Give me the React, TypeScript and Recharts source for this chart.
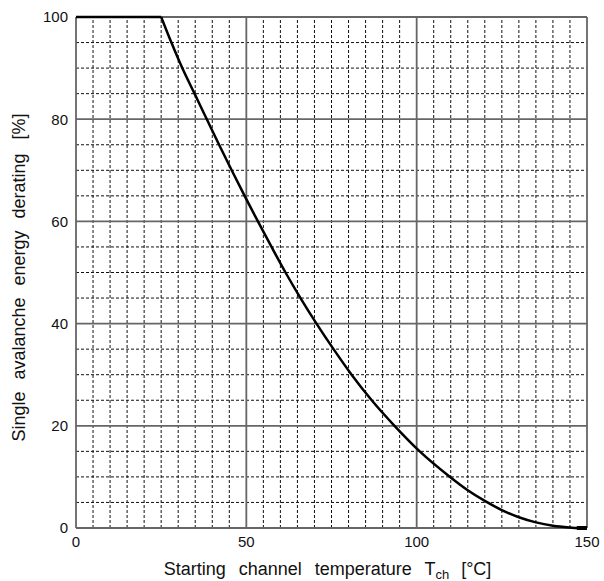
import React from "react";
import { LineChart, Line, XAxis, YAxis, ReferenceLine } from "recharts";

const temps = [0, 25, 28.0, 31.2, 34.8, 38.4, 42.0, 45.7, 49.5, 53.4, 57.4, 61.5, 65.9, 70.6, 75.6, 80.9, 86.8, 93.5, 100.9, 109.8, 115, 120, 125, 130, 135, 140, 145, 147, 150];
const derating = [100, 100, 95, 90, 85, 80, 75, 70, 65, 60, 55, 50, 45, 40, 35, 30, 25, 20, 15, 10, 7.4, 5.3, 3.5, 2.1, 1.1, 0.45, 0.1, 0, 0];
const flatEnd = 25;
const stubStart = 147;

const xTicks = [0, 50, 100, 150];
const yTicks = [0, 20, 40, 60, 80, 100];
const xMinor = [5, 10, 15, 20, 25, 30, 35, 40, 45, 55, 60, 65, 70, 75, 80, 85, 90, 95, 105, 110, 115, 120, 125, 130, 135, 140, 145];
const yMinor = [5, 10, 15, 25, 30, 35, 45, 50, 55, 65, 70, 75, 85, 90, 95];

const data = temps.map((t, i) => ({
  t,
  flat: t <= flatEnd ? derating[i] : undefined,
  curve: t >= flatEnd ? derating[i] : undefined,
  stub: t >= stubStart ? derating[i] : undefined,
}));

const FONT = "'Liberation Sans', Arial, sans-serif";

const XTitle = (props: any) => {
  const vb = props.viewBox || {};
  const cx = vb.x + vb.width / 2 - 4;
  return (
    <text x={cx} y={575} textAnchor="middle" fontFamily={FONT} fontSize={18} fill="#111" wordSpacing={8}>
      <tspan>Starting channel temperature T</tspan>
      <tspan fontSize={13} dy={4}>ch</tspan>
      <tspan dy={-4} dx={12}>[°C]</tspan>
    </text>
  );
};

const YTitle = (props: any) => {
  const vb = props.viewBox || {};
  const cy = vb.y + vb.height / 2 + 5;
  const cx = 25;
  return (
    <text x={cx} y={cy} transform={`rotate(-90 ${cx} ${cy})`} textAnchor="middle" fontFamily={FONT} fontSize={18} fill="#111" wordSpacing={7}>
      <tspan>Single avalanche energy derating</tspan>
      <tspan dx={14}>[%]</tspan>
    </text>
  );
};

export default function App() {
  return (
    <div style={{ position: "absolute", left: 0, top: 0, background: "#fff" }}>
      <LineChart width={604} height={581} data={data} margin={{ top: 17, right: 17, bottom: 23, left: 26 }}>
        <XAxis
          dataKey="t"
          type="number"
          domain={[0, 150]}
          ticks={xTicks}
          axisLine={false}
          tickLine={false}
          tick={{ fontFamily: FONT, fontSize: 15, fill: "#111" }}
          height={30}
          label={<XTitle />}
        />
        <YAxis
          type="number"
          domain={[0, 100]}
          ticks={yTicks}
          axisLine={false}
          tickLine={false}
          tick={{ fontFamily: FONT, fontSize: 15, fill: "#111" }}
          width={50}
          label={<YTitle />}
        />
        {xMinor.map((v) => (
          <ReferenceLine key={"xm" + v} x={v} stroke="#111" strokeWidth={1} strokeDasharray="3 2" />
        ))}
        {yMinor.map((v) => (
          <ReferenceLine key={"ym" + v} y={v} stroke="#111" strokeWidth={1} strokeDasharray="3 2" />
        ))}
        {xTicks.map((v) => (
          <ReferenceLine key={"xM" + v} x={v} stroke="#666" strokeWidth={1.8} />
        ))}
        {yTicks.map((v) => (
          <ReferenceLine key={"yM" + v} y={v} stroke="#666" strokeWidth={1.8} />
        ))}
        <Line dataKey="flat" type="linear" stroke="#000" strokeWidth={2.5} dot={false} isAnimationActive={false} connectNulls={false} />
        <Line dataKey="curve" type="monotone" stroke="#000" strokeWidth={2.5} dot={false} isAnimationActive={false} connectNulls={false} />
        <Line dataKey="stub" type="linear" stroke="#000" strokeWidth={4} dot={false} isAnimationActive={false} connectNulls={false} />
      </LineChart>
    </div>
  );
}
